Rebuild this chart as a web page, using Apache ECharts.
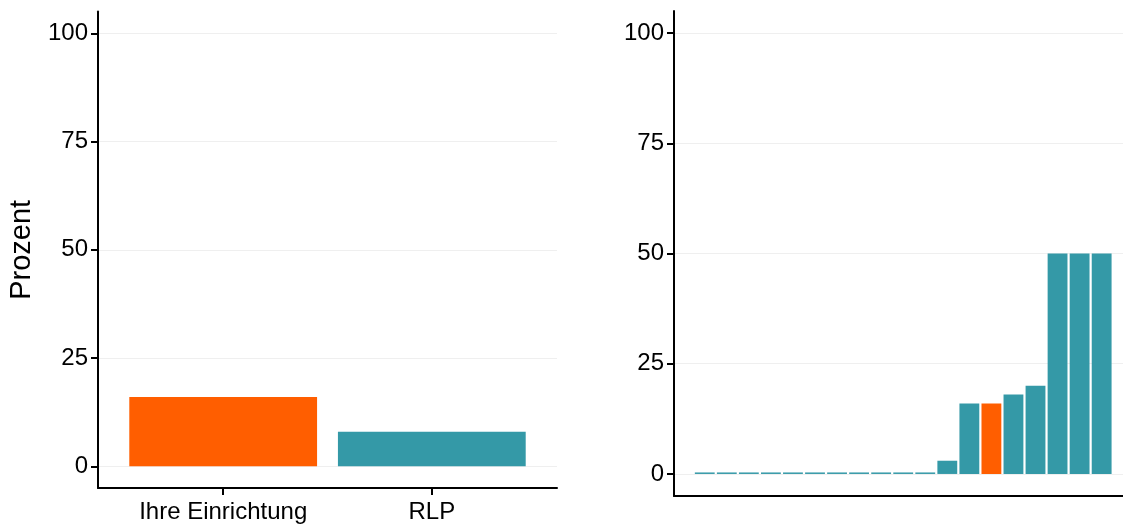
<!DOCTYPE html>
<html>
<head>
<meta charset="utf-8">
<script src="https://cdn.jsdelivr.net/npm/echarts@6/dist/echarts.min.js"></script>
<style>
html,body{margin:0;padding:0;background:#fff;}
#c{width:1123px;height:524px;}
</style>
</head>
<body>
<div id="c"></div>
<script>
// ---- data ----
const leftCategories = ['Ihre Einrichtung', 'RLP'];
const leftValues = [16, 8];
const leftColors = ['#FF5E00', '#3499A7'];
const rightValues = [0, 0, 0, 0, 0, 0, 0, 0, 0, 0, 0, 3, 16, 16, 18, 20, 50, 50, 50];
const rightHighlightIndex = 13;
const yTicks = [0, 25, 50, 75, 100];
const yTitle = 'Prozent';

const ORANGE = '#FF5E00';
const TEAL = '#3499A7';
const FONT = 'Liberation Sans, Arial, sans-serif';

const leftData = leftValues.map((v, i) => ({ value: [i + 1, v], itemStyle: { color: leftColors[i] } }));
const rightData = rightValues.map((v, i) => ({ value: [i + 1, v], itemStyle: { color: i === rightHighlightIndex ? ORANGE : TEAL } }));

const axisLineStyle = { color: '#000', width: 2 };
const gridLine = { show: true, lineStyle: { color: '#EFEFEF', width: 1 } };

function yAxisCfg(gridIndex, name) {
  return {
    type: 'value', gridIndex: gridIndex, min: -5, max: 105,
    name: name || '', nameLocation: 'middle', nameGap: 62,
    nameTextStyle: { fontFamily: FONT, fontSize: 29, color: '#000' },
    axisLine: { show: true, onZero: false, lineStyle: axisLineStyle },
    axisTick: { show: true, length: 7, lineStyle: { color: '#000', width: 2 }, customValues: yTicks },
    axisLabel: { customValues: yTicks, fontFamily: FONT, fontSize: 24, color: '#000', margin: 10, padding: [4, 0, 0, 0] },
    splitLine: gridLine
  };
}

const option = {
  animation: false,
  backgroundColor: '#fff',
  grid: [
    { left: 98, top: 11.6, width: 459, height: 476.8, containLabel: false },
    { left: 674, top: 11, width: 449, height: 485, containLabel: false }
  ],
  xAxis: [
    {
      type: 'value', gridIndex: 0, min: 0.4, max: 2.6,
      axisLine: { show: true, onZero: false, lineStyle: axisLineStyle },
      axisTick: { show: true, length: 7, lineStyle: { color: '#000', width: 2 }, customValues: [1, 2] },
      axisLabel: {
        customValues: [1, 2], fontFamily: FONT, fontSize: 24, color: '#000', margin: 12,
        formatter: v => leftCategories[Math.round(v) - 1] || ''
      },
      splitLine: { show: false }
    },
    {
      type: 'value', gridIndex: 1, min: -0.395, max: 19.968,
      axisLine: { show: true, onZero: false, lineStyle: axisLineStyle },
      axisTick: { show: false },
      axisLabel: { show: false },
      splitLine: { show: false }
    }
  ],
  yAxis: [yAxisCfg(0, yTitle), yAxisCfg(1, '')],
  series: [
    {
      type: 'bar', xAxisIndex: 0, yAxisIndex: 0, barWidth: '90%',
      data: leftData
    },
    {
      type: 'bar', xAxisIndex: 1, yAxisIndex: 1, barWidth: '90%', barMinHeight: 1.5,
      data: rightData
    }
  ]
};

const chart = echarts.init(document.getElementById('c'), null, { renderer: 'canvas' });
chart.setOption(option);
</script>
</body>
</html>
